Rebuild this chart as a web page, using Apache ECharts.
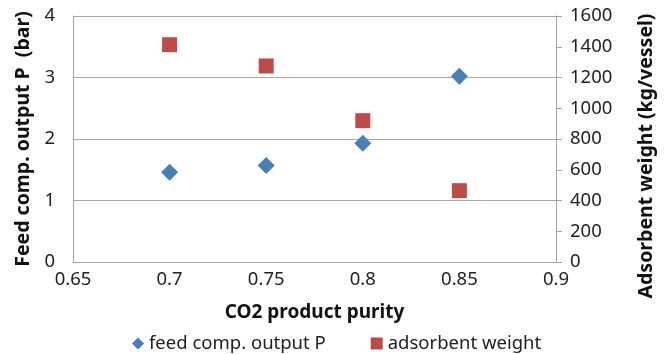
<!DOCTYPE html>
<html><head><meta charset="utf-8">
<script src="https://cdn.jsdelivr.net/npm/echarts@6/dist/echarts.min.js"></script>
<style>html,body{margin:0;padding:0;background:#fff}#c{width:666px;height:354px}</style>
</head><body><div id="c"></div>
<script>
const purity = [0.7, 0.75, 0.8, 0.85];
const feedP = [1.46, 1.57, 1.93, 3.02];
const adsWeight = [1413, 1275, 919, 464];
const FONT = '"Noto Sans", "Open Sans", sans-serif';
const gray = '#a6a6a6';
const chart = echarts.init(document.getElementById('c'));
chart.setOption({
  animation: false,
  textStyle: {fontFamily: FONT},
  grid: {left: 73, right: 110, top: 16, bottom: 92},
  legend: {
    left: 127, top: 329, itemGap: 45, itemWidth: 12, itemHeight: 12,
    textStyle: {fontSize: 18.5, color: '#222', fontFamily: FONT},
    data: [{name: 'feed comp. output P', icon: 'diamond'}, {name: 'adsorbent weight', icon: 'rect'}]
  },
  xAxis: {
    type: 'value', min: 0.65, max: 0.9, interval: 0.05,
    name: 'CO2 product purity', nameLocation: 'middle', nameGap: 41,
    nameTextStyle: {fontSize: 19, fontWeight: 'bold', color: '#111', fontFamily: FONT},
    axisLine: {show: true, lineStyle: {color: gray}},
    axisTick: {show: false},
    splitLine: {show: false},
    axisLabel: {fontSize: 18.5, color: '#222', margin: 8, formatter: v => String(parseFloat(v.toFixed(2)))}
  },
  yAxis: [{
    type: 'value', min: 0, max: 4, interval: 1, position: 'left',
    name: 'Feed comp. output P  (bar)', nameLocation: 'middle', nameGap: 40, nameRotate: 90,
    nameTextStyle: {fontSize: 19.5, fontWeight: 'bold', color: '#111', fontFamily: FONT},
    axisLine: {show: true, lineStyle: {color: gray}},
    axisTick: {show: false},
    splitLine: {show: true, lineStyle: {color: gray}},
    axisLabel: {fontSize: 18.5, color: '#222', margin: 18}
  }, {
    type: 'value', min: 0, max: 1600, interval: 200, position: 'right',
    name: 'Adsorbent weight (kg/vessel)', nameLocation: 'middle', nameGap: 80, nameRotate: 90,
    nameTextStyle: {fontSize: 19.5, fontWeight: 'bold', color: '#111', fontFamily: FONT, padding: [0, 34, 0, 0]},
    axisLine: {show: true, lineStyle: {color: gray}},
    axisTick: {show: true, inside: false, length: 6, lineStyle: {color: gray}},
    splitLine: {show: false},
    axisLabel: {fontSize: 18.5, color: '#222', margin: 14, formatter: v => String(v)}
  }],
  series: [{
    name: 'feed comp. output P', type: 'scatter', yAxisIndex: 0,
    symbol: 'diamond', symbolSize: 17,
    itemStyle: {color: '#4a7ebb', opacity: 1},
    data: purity.map((x, i) => [x, feedP[i]])
  }, {
    name: 'adsorbent weight', type: 'scatter', yAxisIndex: 1,
    symbol: 'rect', symbolSize: 15,
    itemStyle: {color: '#be4b48', opacity: 1},
    data: purity.map((x, i) => [x, adsWeight[i]])
  }]
});
</script></body></html>
